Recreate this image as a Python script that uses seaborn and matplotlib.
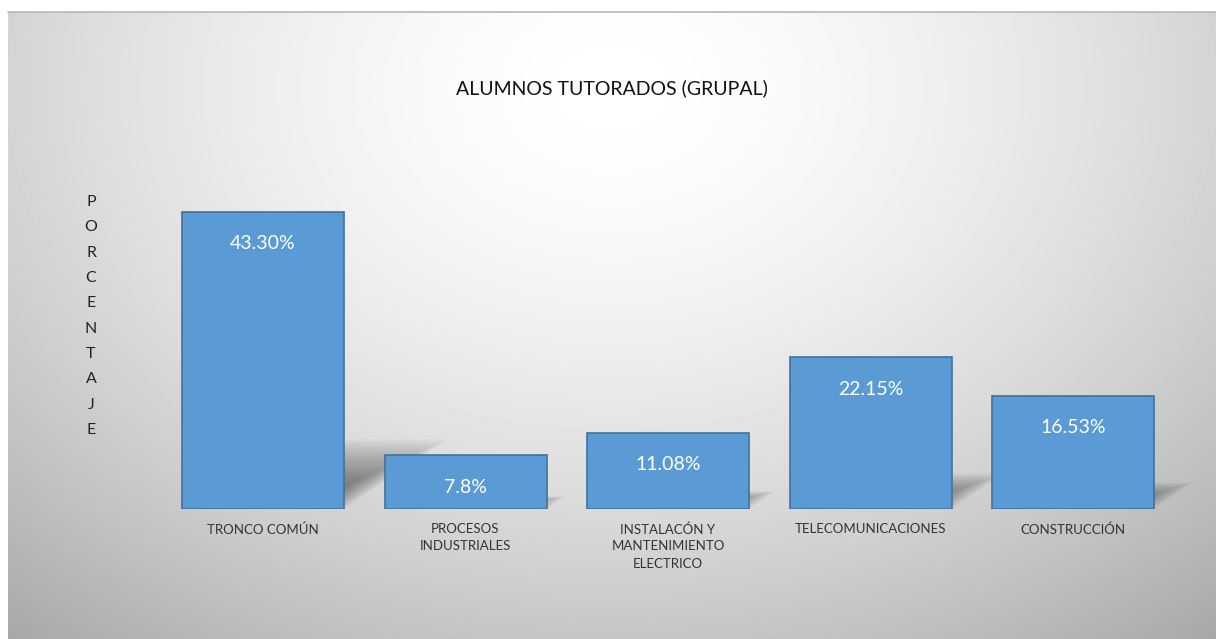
import numpy as np
import matplotlib
matplotlib.use("Agg")
import matplotlib.pyplot as plt
from matplotlib.patches import Polygon
import seaborn as sns

categorias = ["TRONCO COMÚN", "PROCESOS\nINDUSTRIALES", "INSTALACÓN Y\nMANTENIMIENTO\nELECTRICO",
              "TELECOMUNICACIONES", "CONSTRUCCIÓN"]
valores = [43.30, 7.8, 11.08, 22.15, 16.53]
etiquetas = ["43.30%", "7.8%", "11.08%", "22.15%", "16.53%"]

sns.set_style("white")
plt.rcParams["font.family"] = ["Lato", "DejaVu Sans"]

W, H = 1216, 639
fig = plt.figure(figsize=(W / 100, H / 100), dpi=100)

# fondo con degradado radial (area del grafico)
bg = fig.add_axes([8 / W, 0, (W - 8) / W, (H - 12) / H])
xx, yy = np.meshgrid(np.linspace(0, 1, 300), np.linspace(0, 1, 200))
r = np.sqrt(((xx - 0.5) / 0.75) ** 2 + ((yy - 0.12) / 1.1) ** 2)
grad = np.clip(1.0 - 0.32 * r ** 1.6, 0, 1)
bg.imshow(grad, cmap="gray", vmin=0, vmax=1, extent=[0, 1, 1, 0], aspect="auto", interpolation="bicubic")
bg.set_axis_off()
fig.add_artist(plt.Line2D([8 / W, 1], [(H - 12) / H, (H - 12) / H], color="#b8b8b8", lw=1.2))

# eje principal
x0, x1 = 141.5, 1194.5
base, top = 509, 166
ax = fig.add_axes([x0 / W, (H - base) / H, (x1 - x0) / W, (base - top) / H])
ax.patch.set_alpha(0)
sns.barplot(x=categorias, y=valores, color="#5B9BD5", edgecolor="#41719C", linewidth=1.2,
            width=0.8, saturation=1, ax=ax, zorder=3)
ax.set_xlim(-0.6, 4.6)
ax.set_ylim(0, 50)
sns.despine(ax=ax, left=True, bottom=True)
ax.set_yticks([])
ax.set_xticks([])
ax.set_xlabel("")
ax.set_ylabel("")

# sombras difuminadas
n = 28
for i, v in enumerate(valores):
    for k in range(n):
        s = 1 - k * 0.025
        dx = 0.0118 * v * s
        dy = 0.235 * v * s
        sh = 0.006 * k
        poly = Polygon([(i - 0.4, 0), (i + 0.4 - sh, 0), (i + 0.4 + dx - sh, dy), (i - 0.4 + dx, dy)],
                       closed=True, facecolor="#404040", alpha=0.028, edgecolor="none", zorder=1)
        ax.add_patch(poly)

for i, (v, t) in enumerate(zip(valores, etiquetas)):
    ax.annotate(t, (i, v), xytext=(0, -32), textcoords="offset pixels", ha="center", va="center",
                color="white", fontsize=14, zorder=5)
    ax.annotate(categorias[i], (i, 0), xytext=(0, -14), textcoords="offset pixels", ha="center",
                va="top", color="#333333", fontsize=9.5, linespacing=1.5, zorder=5)

fig.text(612 / W, 1 - 88 / H, "ALUMNOS TUTORADOS (GRUPAL)", ha="center", va="center",
         fontsize=14, color="#111111")
fig.text(91 / W, 1 - 316 / H, "\n".join("PORCENTAJE"), ha="center", va="center",
         fontsize=11.5, color="#222222", linespacing=2.03)

fig.savefig("out.png", dpi=100)
